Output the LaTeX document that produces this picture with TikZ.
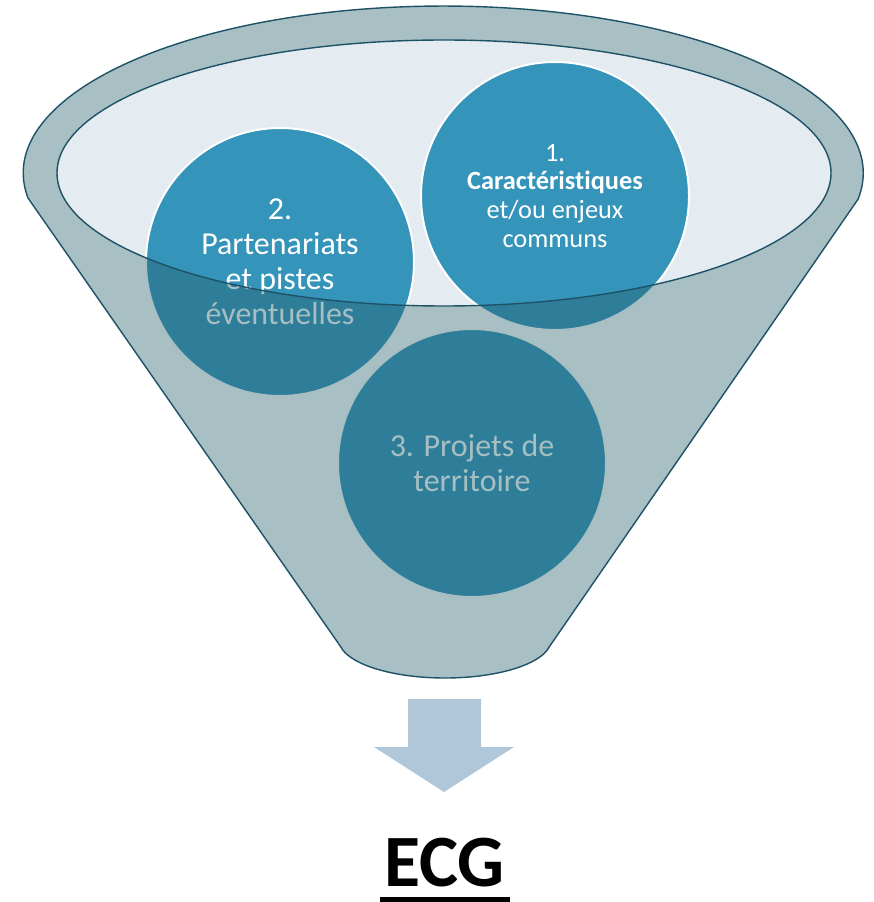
\documentclass[tikz,border=0pt]{standalone}
\usepackage{fontspec}
\setmainfont{Carlito}[RawFeature={-liga;-dlig;-clig}]
\usetikzlibrary{calc}
\definecolor{circblue}{RGB}{52,148,186}
\definecolor{innerfill}{RGB}{228,235,241}
\definecolor{edgec}{RGB}{30,82,102}
\definecolor{funnelc}{RGB}{37,95,105}
\definecolor{arrowc}{RGB}{176,199,218}
\tikzset{
  circ/.style={circle, fill=circblue, draw=white, line width=1.1pt, minimum size=5.36cm, inner sep=0pt, text=white, align=center},
  bigtext/.style={font=\fontsize{18.2}{20}\selectfont},
  smalltext/.style={font=\fontsize{15}{16.4}\selectfont},
  funnelline/.style={draw=edgec, line width=0.8pt},
}
\begin{document}
\begin{tikzpicture}[x=0.02cm,y=-0.02cm]
\useasboundingbox (0,0) rectangle (873,902);
% inner surface of the funnel
\fill[innerfill] (444,173) ellipse [x radius=387, y radius=133];
% circles
\node[circ, smalltext] (c1) at (555,196) {1.\\\textbf{Caractéristiques}\\et/ou enjeux\\communs};
\node[circ, bigtext] (c2) at (280,262) {2.\\Partenariats\\et pistes\\éventuelles};
\node[circ, bigtext] (c3) at (472,463) {3. Projets de\\territoire};
% funnel body overlay (translucent), inner opening cut out
\fill[funnelc, fill opacity=0.4, even odd rule]
  (28,198) arc[start angle=171.4, end angle=369, x radius=420, y radius=167]
  -- (549.4,646.6) arc[start angle=10, end angle=170, x radius=106, y radius=38]
  -- cycle
  (444,173) ellipse [x radius=387, y radius=133];
\draw[funnelline]
  (28,198) arc[start angle=171.4, end angle=369, x radius=420, y radius=167]
  -- (549.4,646.6) arc[start angle=10, end angle=170, x radius=106, y radius=38]
  -- cycle;
\draw[funnelline] (444,173) ellipse [x radius=387, y radius=133];
% arrow
\fill[arrowc] (408,699) -- (481,699) -- (481,747) -- (514,747) -- (444,792) -- (374,747) -- (408,747) -- cycle;
% ECG
\node[font=\fontsize{42}{50}\selectfont\bfseries, anchor=base, inner sep=0pt] (ecg) at (444.5,886) {ECG};
\fill ($(ecg.base west)+(-4,11)$) rectangle ($(ecg.base east)+(5,16)$);
\end{tikzpicture}
\end{document}
